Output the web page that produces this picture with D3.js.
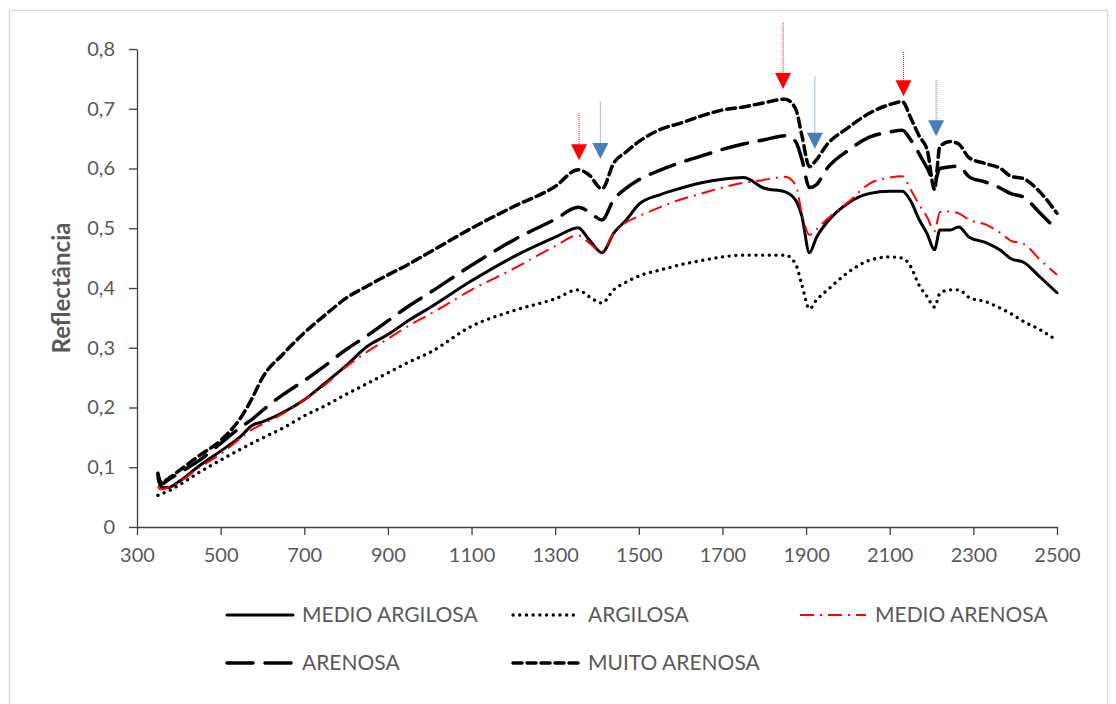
<!DOCTYPE html>
<html>
<head>
<meta charset="utf-8">
<script src="https://cdn.jsdelivr.net/npm/d3@7"></script>
<style>
  body { margin: 0; background: #fff; }
  svg { display: block; font-family: Lato, "Open Sans", sans-serif; }
</style>
</head>
<body>
<div id="chart"></div>
<script>
'use strict';

// wavelength (nm)
var wavelengths = [350, 355, 360, 375, 400, 450, 500, 550, 575, 600, 650, 700, 750, 800, 850, 900, 950, 1000,
  1100, 1200, 1300, 1355, 1380, 1412, 1440, 1470, 1500, 1550, 1600, 1650, 1700, 1750, 1800, 1850, 1875, 1890,
  1908, 1925, 1950, 2000, 2050, 2100, 2130, 2150, 2170, 2190, 2207, 2220, 2245, 2265, 2290, 2330, 2365, 2390,
  2420, 2460, 2500];

var medioArgilosa = [0.082, 0.070, 0.066, 0.066, 0.076, 0.103, 0.127, 0.153, 0.170, 0.176, 0.192, 0.213, 0.241, 0.270, 0.302, 0.322, 0.346, 0.367,
  0.412, 0.452, 0.485, 0.501, 0.482, 0.459, 0.492, 0.514, 0.540, 0.556, 0.567, 0.576, 0.582, 0.585, 0.567, 0.561, 0.547, 0.520,
  0.459, 0.485, 0.510, 0.542, 0.558, 0.562, 0.562, 0.546, 0.515, 0.490, 0.464, 0.497, 0.497, 0.502, 0.485, 0.476, 0.463, 0.449,
  0.443, 0.418, 0.392];

var argilosa = [0.053, 0.055, 0.056, 0.060, 0.070, 0.092, 0.112, 0.131, 0.140, 0.149, 0.166, 0.186, 0.203, 0.222, 0.240, 0.258, 0.276, 0.292,
  0.336, 0.362, 0.382, 0.397, 0.386, 0.375, 0.397, 0.410, 0.420, 0.430, 0.439, 0.446, 0.452, 0.455, 0.455, 0.455, 0.440, 0.405,
  0.365, 0.380, 0.396, 0.426, 0.446, 0.452, 0.450, 0.436, 0.405, 0.385, 0.368, 0.391, 0.397, 0.397, 0.384, 0.377, 0.366, 0.357,
  0.344, 0.330, 0.312];

var medioArenosa = [0.068, 0.063, 0.063, 0.066, 0.075, 0.100, 0.122, 0.150, 0.163, 0.172, 0.190, 0.213, 0.238, 0.268, 0.293, 0.315, 0.337, 0.356,
  0.397, 0.432, 0.470, 0.488, 0.476, 0.461, 0.492, 0.510, 0.520, 0.535, 0.548, 0.558, 0.568, 0.576, 0.581, 0.586, 0.572, 0.525,
  0.489, 0.498, 0.515, 0.543, 0.574, 0.585, 0.587, 0.565, 0.540, 0.518, 0.495, 0.527, 0.528, 0.525, 0.514, 0.506, 0.492, 0.479,
  0.474, 0.447, 0.422];

var arenosa = [0.088, 0.075, 0.072, 0.079, 0.090, 0.112, 0.140, 0.168, 0.180, 0.195, 0.222, 0.245, 0.270, 0.297, 0.320, 0.345, 0.370, 0.392,
  0.438, 0.480, 0.515, 0.535, 0.528, 0.514, 0.548, 0.567, 0.581, 0.597, 0.610, 0.621, 0.632, 0.641, 0.648, 0.655, 0.645, 0.615,
  0.568, 0.573, 0.600, 0.630, 0.652, 0.661, 0.664, 0.648, 0.625, 0.600, 0.578, 0.600, 0.603, 0.604, 0.586, 0.577, 0.567, 0.558,
  0.552, 0.525, 0.497];

var muitoArenosa = [0.090, 0.077, 0.075, 0.081, 0.094, 0.120, 0.145, 0.185, 0.215, 0.250, 0.290, 0.325, 0.355, 0.383, 0.403, 0.422, 0.440, 0.460,
  0.500, 0.536, 0.570, 0.598, 0.590, 0.566, 0.609, 0.628, 0.645, 0.665, 0.676, 0.688, 0.698, 0.703, 0.710, 0.716, 0.700, 0.655,
  0.603, 0.615, 0.640, 0.668, 0.692, 0.707, 0.712, 0.685, 0.655, 0.630, 0.565, 0.637, 0.645, 0.641, 0.618, 0.608, 0.600, 0.587,
  0.583, 0.560, 0.525];

var xTicks = [300, 500, 700, 900, 1100, 1300, 1500, 1700, 1900, 2100, 2300, 2500];
var yTicks = [0, 0.1, 0.2, 0.3, 0.4, 0.5, 0.6, 0.7, 0.8];

// arrows marking the absorption features
var arrowWl = [1357, 1408, 1845, 1921, 2133, 2211];
var arrowTop = [0.693, 0.712, 0.844, 0.754, 0.795, 0.748];
var arrowTip = [0.614, 0.616, 0.733, 0.633, 0.721, 0.654];
var arrowKind = ['red', 'blue', 'red', 'blue', 'red', 'blue'];

var series = [
  {name: 'MEDIO ARGILOSA', values: medioArgilosa, color: '#000', width: 3, dash: null, cap: 'round'},
  {name: 'ARGILOSA', values: argilosa, color: '#000', width: 3.3, dash: '0.1 6.6', cap: 'round'},
  {name: 'MEDIO ARENOSA', values: medioArenosa, color: '#ff0000', width: 2, dash: '14 6 2 6', cap: 'butt'},
  {name: 'ARENOSA', values: arenosa, color: '#000', width: 3.5, dash: '26 12', cap: 'round'},
  {name: 'MUITO ARENOSA', values: muitoArenosa, color: '#000', width: 3.5, dash: '9 5', cap: 'round'}
];

var W = 1116, H = 704;
var svg = d3.select('#chart').append('svg').attr('width', W).attr('height', H);

svg.append('rect')
  .attr('x', 9.5).attr('y', 10.5).attr('width', 1098).attr('height', 700)
  .attr('fill', '#fff').attr('stroke', '#d9d9d9').attr('stroke-width', 1.3);

var x = d3.scaleLinear().domain([300, 2500]).range([137, 1057]);
var y = d3.scaleLinear().domain([0, 0.8]).range([527, 49]);

var fmt = function(d) { return d === 0 ? '0' : d3.format('.1f')(d).replace('.', ','); };

var gy = svg.append('g').attr('transform', 'translate(137,0)')
  .call(d3.axisLeft(y).tickValues(yTicks).tickFormat(fmt).tickSizeInner(8).tickSizeOuter(0).tickPadding(14));
var gx = svg.append('g').attr('transform', 'translate(0,527)')
  .call(d3.axisBottom(x).tickValues(xTicks).tickFormat(d3.format('d')).tickSizeInner(8).tickSizeOuter(0).tickPadding(13));

[gx, gy].forEach(function(g) {
  g.select('.domain').attr('stroke', '#404040').attr('stroke-width', 1.3);
  g.selectAll('.tick line').attr('stroke', '#404040').attr('stroke-width', 1.3);
  g.selectAll('.tick text').attr('fill', '#595959').style('font-size', '20px').style('font-family', 'Lato, sans-serif');
});

svg.append('text')
  .attr('transform', 'translate(70,288) rotate(-90)')
  .attr('text-anchor', 'middle')
  .attr('fill', '#595959')
  .style('font-size', '24px').style('font-weight', 'bold')
  .text('Reflectância');

var line = d3.line()
  .x(function(d, i) { return x(wavelengths[i]); })
  .y(function(d) { return y(d); })
  .curve(d3.curveMonotoneX);

series.forEach(function(s) {
  svg.append('path')
    .attr('d', line(s.values))
    .attr('fill', 'none')
    .attr('stroke', s.color)
    .attr('stroke-width', s.width)
    .attr('stroke-dasharray', s.dash)
    .attr('stroke-linecap', s.cap)
    .attr('stroke-linejoin', 'round');
});

// arrows
var arrowColors = {red: '#ff0000', blue: '#4a7ebb'};
arrowWl.forEach(function(wl, i) {
  var c = arrowColors[arrowKind[i]];
  var ax = x(wl), yTop = y(arrowTop[i]), yTip = y(arrowTip[i]);
  svg.append('line')
    .attr('x1', ax).attr('x2', ax).attr('y1', yTop).attr('y2', yTip - 14)
    .attr('stroke', c).attr('stroke-width', 1).attr('stroke-dasharray', '1 1');
  svg.append('path')
    .attr('d', 'M' + (ax - 8) + ',' + (yTip - 16) + 'L' + (ax + 8) + ',' + (yTip - 16) + 'L' + ax + ',' + yTip + 'Z')
    .attr('fill', c);
});

// legend
var legendPos = [[227, 615], [513, 615], [800, 615], [227, 663], [513, 663]];
series.forEach(function(s, i) {
  var p = legendPos[i];
  var g = svg.append('g').attr('transform', 'translate(' + p[0] + ',' + p[1] + ')');
  g.append('line')
    .attr('x1', 0).attr('x2', 66).attr('y1', 0).attr('y2', 0)
    .attr('stroke', s.color)
    .attr('stroke-width', s.width)
    .attr('stroke-dasharray', s.dash)
    .attr('stroke-linecap', s.cap);
  g.append('text')
    .attr('x', 75).attr('y', 0).attr('dy', '0.35em')
    .attr('fill', '#595959')
    .style('font-size', '21px')
    .text(s.name);
});
</script>
</body>
</html>
